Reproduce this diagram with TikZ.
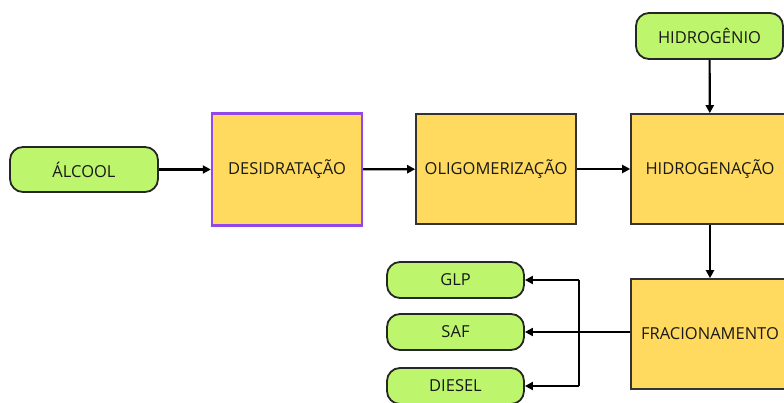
\documentclass[tikz,border=0pt]{standalone}
\usepackage{fontspec}
\setmainfont{Open Sans}
\usetikzlibrary{arrows.meta}
\definecolor{leaf}{HTML}{BDF56C}
\definecolor{gold}{HTML}{FFDA5E}
\definecolor{violetedge}{HTML}{9447E8}
\tikzset{
  inbox/.style={draw=black!85, line width=1.8pt, fill=leaf, rounded corners=13pt, font=\fontsize{16.5}{19}\selectfont, text=black!90},
  procbox/.style={draw=black!80, line width=1.6pt, fill=gold, font=\fontsize{16.5}{19}\selectfont, text=black!90},
  flow/.style={line width=2.2pt, -{Triangle[length=8pt,width=8pt]}},
  wire/.style={line width=2.2pt}
}
\begin{document}
\begin{tikzpicture}[x=1pt,y=-1pt]
\useasboundingbox (0,0) rectangle (784,403);
\clip (0,0) rectangle (784,403);
\fill[white] (0,0) rectangle (784,403);
\node[inbox, minimum width=148pt, minimum height=45pt] (alc) at (84,169.5) {ÁLCOOL};
\node[procbox, draw=violetedge, line width=2.4pt, minimum width=150pt, minimum height=112pt] (des) at (287,169.5) {DESIDRATAÇÃO};
\node[procbox, minimum width=160pt, minimum height=110pt] (oli) at (496,169) {OLIGOMERIZAÇÃO};
\node[procbox, minimum width=158pt, minimum height=110pt] (hgn) at (710,169) {HIDROGENAÇÃO};
\node[inbox, minimum width=147pt, minimum height=46pt] (h2) at (709.5,36) {HIDROGÊNIO};
\node[procbox, minimum width=158pt, minimum height=110pt] (fra) at (710,334) {FRACIONAMENTO};
\node[inbox, minimum width=137pt, minimum height=36pt] (glp) at (455.5,280) {GLP};
\node[inbox, minimum width=137pt, minimum height=36pt] (saf) at (455.5,332) {SAF};
\node[inbox, minimum width=137pt, minimum height=36pt] (die) at (455.5,386) {DIESEL};
\draw[flow] (alc) -- (des);
\draw[flow] (des) -- (oli);
\draw[flow] (oli) -- (hgn);
\draw[flow] (h2) -- (hgn);
\draw[flow] (hgn) -- (fra);
\draw[flow] (fra.west |- saf.east) -- (saf.east);
\coordinate (bus) at (579,332);
\draw[wire] (bus |- glp.east) -- (bus |- die.east);
\draw[flow] (bus |- glp.east) -- (glp.east);
\draw[flow] (bus |- die.east) -- (die.east);
\end{tikzpicture}
\end{document}
